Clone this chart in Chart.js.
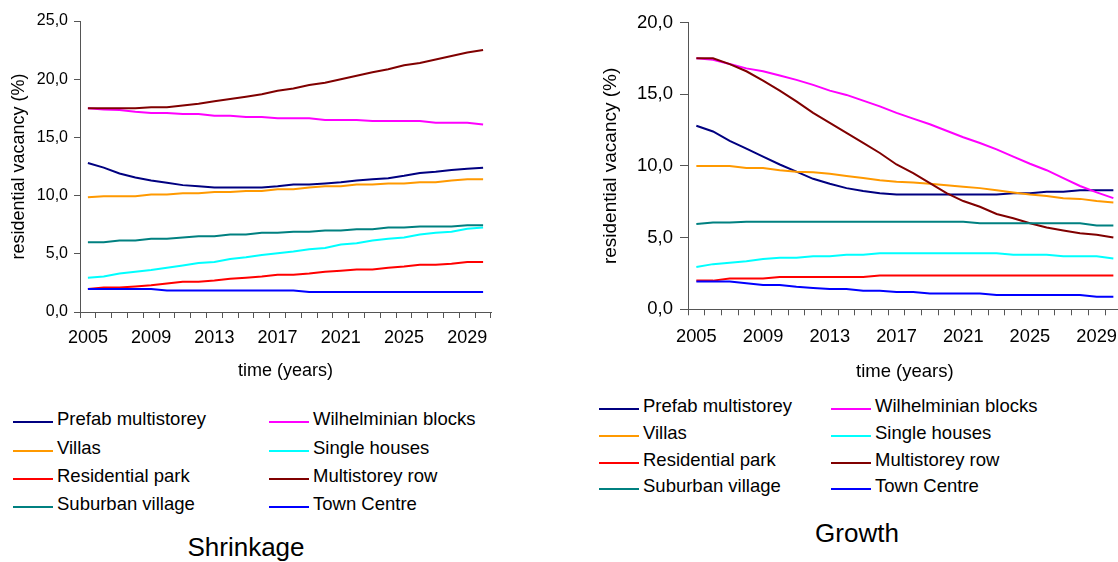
<!DOCTYPE html>
<html>
<head>
<meta charset="utf-8">
<script src="https://cdn.jsdelivr.net/npm/chart.js@4.4.1/dist/chart.umd.min.js"></script>
<style>
  html, body { margin: 0; padding: 0; background: #fff; }
  body { width: 1118px; height: 562px; overflow: hidden; position: relative;
         font-family: "Liberation Sans", Arial, sans-serif; color: #000; }
  canvas { position: absolute; top: 0; }
  #cShrink { left: 0; }
  #cGrowth { left: 580px; }
  .item { position: absolute; height: 24px; line-height: 24px; font-size: 18.5px; white-space: nowrap; }
  .item .swatch { position: absolute; left: 0; top: 14px; width: 40px; height: 2px; }
  .item .txt { position: absolute; left: 44px; top: 0; }
  .title { position: absolute; width: 300px; height: 30px; line-height: 30px; font-size: 26px; text-align: center; }
</style>
</head>
<body>
<canvas id="cShrink" width="500" height="390"></canvas>
<canvas id="cGrowth" width="560" height="390"></canvas>
<div id="legShrink"></div>
<div id="legGrowth"></div>
<div class="title" style="left:96px; top:532px;">Shrinkage</div>
<div class="title" style="left:707px; top:518px;">Growth</div>
<script>
// Years on the category axis
const years = ['2005','2006','2007','2008','2009','2010','2011','2012','2013','2014','2015','2016','2017',
               '2018','2019','2020','2021','2022','2023','2024','2025','2026','2027','2028','2029','2030'];
const xTickLabels = ['2005','2009','2013','2017','2021','2025','2029'];
const yTicksShrink = ['0,0','5,0','10,0','15,0','20,0','25,0'];
const yTicksGrowth = ['0,0','5,0','10,0','15,0','20,0'];

const seriesNames = ['Prefab multistorey','Wilhelminian blocks','Villas','Single houses',
                     'Residential park','Multistorey row','Suburban village','Town Centre'];
const palette = ['#000080','#ff00ff','#ff9900','#00ffff','#ff0000','#800000','#008080','#0000ff'];

// Shrinkage scenario: residential vacancy (%)
const shrinkPrefab       = [12.8,12.4,11.9,11.55,11.3,11.1,10.9,10.8,10.7,10.7,10.7,10.7,10.8,10.95,10.95,11.05,11.15,11.3,11.4,11.5,11.7,11.95,12.05,12.2,12.3,12.4];
const shrinkWilhelminian = [17.5,17.4,17.35,17.2,17.1,17.1,17.0,17.0,16.85,16.85,16.75,16.75,16.65,16.65,16.65,16.5,16.5,16.5,16.4,16.4,16.4,16.4,16.25,16.25,16.25,16.1];
const shrinkVillas       = [9.85,9.95,9.95,9.95,10.1,10.1,10.2,10.2,10.3,10.3,10.4,10.4,10.55,10.55,10.7,10.8,10.8,10.95,10.95,11.05,11.05,11.15,11.15,11.3,11.4,11.4];
const shrinkSingle       = [2.95,3.05,3.3,3.45,3.6,3.8,4.0,4.2,4.3,4.55,4.7,4.9,5.05,5.2,5.4,5.5,5.8,5.9,6.15,6.3,6.4,6.65,6.8,6.9,7.15,7.25];
const shrinkResidential  = [1.98,2.1,2.1,2.2,2.3,2.45,2.6,2.6,2.7,2.85,2.95,3.05,3.2,3.2,3.3,3.45,3.55,3.65,3.65,3.8,3.9,4.05,4.05,4.15,4.3,4.3];
const shrinkMultistorey  = [17.5,17.5,17.5,17.5,17.6,17.6,17.75,17.9,18.1,18.3,18.5,18.7,19.0,19.2,19.5,19.7,20.0,20.3,20.6,20.85,21.2,21.4,21.7,22.0,22.3,22.5];
const shrinkSuburban     = [6.0,6.0,6.15,6.15,6.3,6.3,6.4,6.5,6.5,6.65,6.65,6.8,6.8,6.9,6.9,7.0,7.0,7.1,7.1,7.25,7.25,7.35,7.35,7.35,7.45,7.45];
const shrinkTown         = [1.98,1.98,1.98,1.98,1.98,1.85,1.85,1.85,1.85,1.85,1.85,1.85,1.85,1.85,1.72,1.72,1.72,1.72,1.72,1.72,1.72,1.72,1.72,1.72,1.72,1.72];

// Growth scenario: residential vacancy (%)
const growthPrefab       = [12.8,12.4,11.75,11.2,10.65,10.1,9.6,9.1,8.75,8.45,8.25,8.1,8.0,8.0,8.0,8.0,8.0,8.0,8.0,8.1,8.1,8.2,8.2,8.3,8.3,8.3];
const growthWilhelminian = [17.5,17.4,17.1,16.8,16.6,16.3,16.0,15.65,15.25,14.95,14.55,14.15,13.7,13.3,12.9,12.45,12.0,11.6,11.15,10.65,10.15,9.7,9.15,8.6,8.15,7.75];
const growthVillas       = [10.0,10.0,10.0,9.85,9.85,9.7,9.6,9.55,9.45,9.3,9.15,9.0,8.9,8.85,8.75,8.65,8.55,8.45,8.3,8.15,8.0,7.9,7.75,7.7,7.55,7.45];
const growthSingle       = [2.95,3.15,3.25,3.35,3.5,3.6,3.6,3.7,3.7,3.8,3.8,3.9,3.9,3.9,3.9,3.9,3.9,3.9,3.9,3.8,3.8,3.8,3.7,3.7,3.7,3.55];
const growthResidential  = [2.0,2.0,2.15,2.15,2.15,2.25,2.25,2.25,2.25,2.25,2.25,2.35,2.35,2.35,2.35,2.35,2.35,2.35,2.35,2.35,2.35,2.35,2.35,2.35,2.35,2.35];
const growthMultistorey  = [17.5,17.5,17.1,16.6,15.95,15.25,14.5,13.7,13.0,12.3,11.6,10.9,10.1,9.5,8.8,8.1,7.55,7.15,6.65,6.35,6.0,5.7,5.5,5.3,5.2,5.0];
const growthSuburban     = [5.95,6.05,6.05,6.1,6.1,6.1,6.1,6.1,6.1,6.1,6.1,6.1,6.1,6.1,6.1,6.1,6.1,6.0,6.0,6.0,6.0,6.0,6.0,6.0,5.85,5.85];
const growthTown         = [1.93,1.93,1.93,1.81,1.7,1.7,1.58,1.49,1.42,1.42,1.3,1.3,1.2,1.2,1.1,1.1,1.1,1.1,1.0,1.0,1.0,1.0,1.0,1.0,0.88,0.88];

const shrinkSeries = [shrinkPrefab, shrinkWilhelminian, shrinkVillas, shrinkSingle,
                      shrinkResidential, shrinkMultistorey, shrinkSuburban, shrinkTown];
const growthSeries = [growthPrefab, growthWilhelminian, growthVillas, growthSingle,
                      growthResidential, growthMultistorey, growthSuburban, growthTown];

const axisColor = '#555555';
Chart.defaults.font.family = '"Liberation Sans", Arial, sans-serif';
Chart.defaults.color = '#000';

function makeChart(id, seriesValues, yLabels, o) {
  const n = seriesValues.length;
  const datasets = seriesValues.map((vals, i) => ({
    label: seriesNames[i],
    data: vals,
    borderColor: palette[i],
    backgroundColor: palette[i],
    borderWidth: 2,
    pointRadius: 0,
    tension: 0,
    fill: false,
    order: n - 1 - i      // later series are painted on top
  }));
  return new Chart(document.getElementById(id), {
    type: 'line',
    data: { labels: years, datasets },
    options: {
      responsive: false,
      animation: false,
      events: [],
      layout: { padding: { top: o.top, right: o.right, left: 0, bottom: 0 } },
      plugins: { legend: { display: false }, tooltip: { enabled: false } },
      scales: {
        x: {
          offset: true,
          grid: { offset: true, drawOnChartArea: false, tickLength: 6, color: axisColor },
          border: { color: axisColor, width: 1 },
          ticks: {
            autoSkip: false, maxRotation: 0, minRotation: 0, padding: o.xPad,
            font: { size: o.xFont }, color: '#000',
            callback: (v, i) => xTickLabels.includes(years[i]) ? years[i] : ''
          },
          title: { display: true, text: 'time (years)', color: '#000',
                   font: { size: o.xTitleFont }, padding: { top: 0, bottom: o.xTitlePad } },
          afterFit: s => { s.height = o.xHeight; }
        },
        y: {
          min: 0, max: o.yMax,
          grid: { drawOnChartArea: false, tickLength: o.yTick, color: axisColor },
          border: { color: axisColor, width: 1 },
          ticks: { stepSize: 5, padding: o.yPad, font: { size: o.yFont }, color: '#000',
                   callback: (v, i) => yLabels[i] },
          title: { display: true, text: 'residential vacancy (%)', color: '#000',
                   font: { size: o.yTitleFont }, padding: { top: o.yTitlePad, bottom: 0 } },
          afterFit: s => { s.width = o.yWidth; }
        }
      }
    }
  });
}

makeChart('cShrink', shrinkSeries, yTicksShrink, {
  top: 21, right: 9, yMax: 25, xHeight: 78, yWidth: 80,
  xPad: 9, xFont: 18, xTitleFont: 18, xTitlePad: 8,
  yTick: 6, yPad: 6, yFont: 16, yTitleFont: 18, yTitlePad: 8
});
makeChart('cGrowth', growthSeries, yTicksGrowth, {
  top: 22.5, right: 18.3, yMax: 20, xHeight: 80.7, yWidth: 108,
  xPad: 11, xFont: 18.3, xTitleFont: 18.5, xTitlePad: 7,
  yTick: 8, yPad: 7, yFont: 18.5, yTitleFont: 19, yTitlePad: 19
});

// Legends: two columns of line samples with series names
function buildLegend(containerId, cols, rows) {
  const box = document.getElementById(containerId);
  seriesNames.forEach((name, i) => {
    const c = i % 2, r = Math.floor(i / 2);
    const item = document.createElement('div');
    item.className = 'item';
    item.style.left = cols[c] + 'px';
    item.style.top = (rows[r] - 12) + 'px';
    const sw = document.createElement('div');
    sw.className = 'swatch';
    sw.style.background = palette[i];
    const tx = document.createElement('div');
    tx.className = 'txt';
    tx.textContent = name;
    item.appendChild(sw);
    item.appendChild(tx);
    box.appendChild(item);
  });
}
buildLegend('legShrink', [13, 269], [419.2, 447.5, 475.8, 504]);
buildLegend('legGrowth', [599, 831], [405.7, 432.6, 459.5, 486.4]);
</script>
</body>
</html>
